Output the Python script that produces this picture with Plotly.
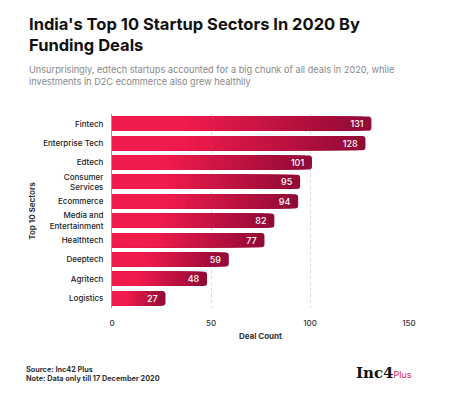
import plotly.graph_objects as go

sectors = ["Fintech", "Enterprise Tech", "Edtech", "Consumer<br>Services", "Ecommerce",
           "Media and<br>Entertainment", "Healthtech", "Deeptech", "Agritech", "Logistics"]
deals = [131, 128, 101, 95, 94, 82, 77, 59, 48, 27]

# page has an 8px body margin; figure coordinates = page coordinates - 8
OFF = 8
W, H = 450 - OFF, 394 - OFF
L, R, T, B = 112 - OFF, 409 - OFF, 114 - OFF, 308 - OFF

def px(x):
    return (x - OFF - L) / (R - L)

def py(y):
    return (B - (y - OFF)) / (B - T)

bright = (239, 27, 76)
dark = (146, 10, 54)

def col(f):
    t = max(0.0, (f - 0.3) / 0.7)
    c = [round(bright[i] + (dark[i] - bright[i]) * t) for i in range(3)]
    return f"rgb({c[0]},{c[1]},{c[2]})"

fig = go.Figure()
N = 30
for k in range(N):
    frac = 1 - k / N
    fig.add_trace(go.Bar(
        y=sectors, x=[v * frac for v in deals], orientation="h",
        marker=dict(color=col(frac), line=dict(width=0),
                    cornerradius=3 if k == 0 else 0),
        hoverinfo="skip", showlegend=False,
    ))
fig.add_trace(go.Bar(
    y=sectors, x=deals, orientation="h",
    marker=dict(color="rgba(0,0,0,0)", line=dict(width=0)),
    text=[f"{v}\u00a0\u00a0" for v in deals], textposition="inside", insidetextanchor="end",
    textangle=0, constraintext="none",
    textfont=dict(color="white", size=9, family="Inter", weight=500),
    showlegend=False,
))

fig.update_layout(
    width=W, height=H, barmode="overlay", bargap=0.27,
    margin=dict(l=L, r=W - R, t=T, b=H - B),
    paper_bgcolor="white", plot_bgcolor="white",
    font=dict(family="Inter", color="#222"),
    xaxis=dict(range=[0, 150], tickvals=[0, 50, 100, 150], showgrid=True, automargin=False,
               gridcolor="#d8d8d8", griddash="dot", gridwidth=1, zeroline=False,
               tickfont=dict(size=8, color="#333", weight=500), ticks="", showline=False,
               ticklabelstandoff=9,
               title=dict(text="<b>Deal Count</b>", font=dict(size=8, color="#333"), standoff=6)),
    yaxis=dict(autorange="reversed", showline=True, linecolor="#999", linewidth=1,
               automargin=False,
               tickfont=dict(size=8, color="#222", family="Inter", weight=500), ticks="",
               ticklabelstandoff=6,
               title=dict(text="<b>Top 10 Sectors</b>", font=dict(size=8, color="#333"), standoff=6)),
    annotations=[
        dict(text="<b>India's Top 10 Startup Sectors In 2020 By<br>Funding Deals</b>",
             x=px(27), y=py(12), xref="paper", yref="paper", xanchor="left", yanchor="top",
             align="left", showarrow=False, font=dict(size=16.5, color="#111", family="Inter")),
        dict(text="Unsurprisingly, edtech startups accounted for a big chunk of all deals in 2020, while<br>investments in D2C ecommerce also grew healthily",
             x=px(27), y=py(62), xref="paper", yref="paper", xanchor="left", yanchor="top",
             align="left", showarrow=False, font=dict(size=9.2, color="#888", family="Inter")),
        dict(text="<b>Source: Inc42 Plus<br>Note: Data only till 17 December 2020</b>",
             x=px(24), y=py(363), xref="paper", yref="paper", xanchor="left", yanchor="top",
             align="left", showarrow=False, font=dict(size=7.3, color="#333", family="Inter")),
        dict(text="<b>Inc4</b><span style='color:#e0204e;font-size:9px;font-family:Inter'>Plus</span>",
             x=px(354), y=py(373), xref="paper", yref="paper", xanchor="left", yanchor="middle",
             showarrow=False, font=dict(size=15, color="#111", family="DejaVu Serif")),
    ],
)
fig.write_html("out.html")
